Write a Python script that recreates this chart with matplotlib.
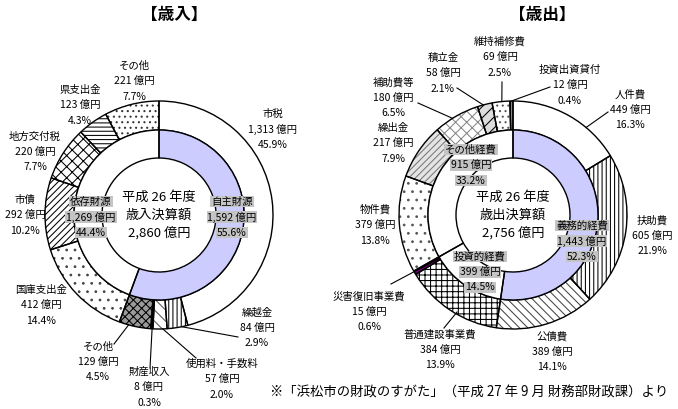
import matplotlib
matplotlib.use("Agg")
import matplotlib.pyplot as plt
import numpy as np

plt.rcParams["font.family"] = ["Noto Sans CJK JP", "DejaVu Sans"]
plt.rcParams["hatch.linewidth"] = 0.75

W, H = 678, 409

# 歳入
rev_labels = ["市税", "繰越金", "使用料・手数料", "財産収入", "その他",
              "国庫支出金", "市債", "地方交付税", "県支出金", "その他"]
rev_values = [1313, 84, 57, 8, 129, 412, 292, 220, 123, 221]
rev_pcts = ["45.9%", "2.9%", "2.0%", "0.3%", "4.5%",
            "14.4%", "10.2%", "7.7%", "4.3%", "7.7%"]
rev_inner_labels = ["自主財源", "依存財源"]
rev_inner_values = [1592, 1269]
rev_inner_pcts = ["55.6%", "44.4%"]
rev_total = 2860

# 歳出
exp_labels = ["人件費", "扶助費", "公債費", "普通建設事業費", "災害復旧事業費", "物件費",
              "繰出金", "補助費等", "積立金", "維持補修費", "投資出資貸付"]
exp_values = [449, 605, 389, 384, 15, 379, 217, 180, 58, 69, 12]
exp_pcts = ["16.3%", "21.9%", "14.1%", "13.9%", "0.6%", "13.8%",
            "7.9%", "6.5%", "2.1%", "2.5%", "0.4%"]
exp_inner_labels = ["義務的経費", "投資的経費", "その他経費"]
exp_inner_values = [1443, 399, 915]
exp_inner_pcts = ["52.3%", "14.5%", "33.2%"]
exp_total = 2756

# styles: (facecolor, hatch, hatch colour)
rev_styles = [
    ("white", "", "black"),
    ("white", "||||", "black"),
    ("white", "\\\\\\", "#555555"),
    ("black", "", "black"),
    ("#9a9a9a", "xxxx", "black"),
    ("white", "..", "#444444"),
    ("white", "/////", "black"),
    ("white", "xxx", "black"),
    ("white", "----", "black"),
    ("white", "...", "#333333"),
]
exp_styles = [
    ("white", "", "black"),
    ("white", "||||", "black"),
    ("white", "\\\\\\\\", "#444444"),
    ("white", "+++", "black"),
    ("#660066", "", "#660066"),
    ("white", "..", "#555555"),
    ("#e4e4e4", "/////", "#777777"),
    ("white", "xxx", "#888888"),
    ("#dddddd", "///", "black"),
    ("white", "...", "#555555"),
    ("#888888", "||||", "black"),
]

# label anchors (pixel coords, middle line)
rev_label_xy = [(273, 129), (257, 328), (222, 379), (149, 387), (98, 362),
                (41, 305), (25, 215), (35, 152), (80, 105), (134, 81)]
exp_label_xy = [(630, 110), (652, 236), (552, 352), (440, 350), (369, 312),
                (375, 225), (393, 143), (393, 98), (443, 73), (500, 57), (570, 85)]
rev_inner_xy = [(232, 217), (91, 217)]
exp_inner_xy = [(582, 241), (480, 272), (471, 165)]

# leaders: (wedge index, fraction clockwise within wedge, start radius, end point)
rev_leaders = [(1, 0.3, 114, (238, 337)), (2, 0.3, 114, (196, 358)),
               (3, 0.5, 90, (150, 368)), (4, 0.7, 114, (114, 344))]
exp_leaders = [(0, 0.68, 114, (608, 112)), (4, 0.5, 85, (391, 284)),
               (3, 0.43, 112, (444, 328)), (7, 0.41, 114, (418, 103)),
               (8, 0.4, 114, (457, 88)), (9, 0.55, 114, (502, 82)),
               (10, 0.5, 114, (550, 87))]

R_OUT, R_MID, R_IN = 114, 85, 57
CY = 215


def py(y):
    return H - y


def ring(ax, values, center, r_out, r_in, styles):
    wedges, _ = ax.pie(values, radius=r_out, center=center, startangle=90,
                       counterclock=False, wedgeprops=dict(width=r_out - r_in, linewidth=0))
    for w, (fc, hatch, hc) in zip(wedges, styles):
        w.set_facecolor(fc)
        w.set_hatch(hatch)
        w.set_edgecolor(hc)
    ax.pie(values, radius=r_out, center=center, startangle=90, counterclock=False,
           wedgeprops=dict(width=r_out - r_in, fill=False, edgecolor="black", linewidth=1))
    return wedges


def draw_chart(ax, cx, values, styles, labels, pcts, label_xy,
               inner_values, inner_labels, inner_pcts, inner_xy, leaders, title_line):
    center = (cx, py(CY))
    wedges = ring(ax, values, center, R_OUT, R_MID, styles)
    inner_styles = [("#ccccff", "", "#ccccff")] + [("white", "", "white")] * (len(inner_values) - 1)
    ring(ax, inner_values, center, R_MID, R_IN, inner_styles)

    for lab, v, p, (x, y) in zip(labels, values, pcts, label_xy):
        for k, s in enumerate([lab, f"{v:,} 億円", p]):
            ax.text(x, py(y + (k - 1) * 15.5), s, ha="center", va="center", fontsize=7.5)

    for lab, v, p, (x, y) in zip(inner_labels, inner_values, inner_pcts, inner_xy):
        for k, s in enumerate([lab, f"{v:,} 億円", p]):
            ax.text(x, py(y + (k - 1) * 15.5), s, ha="center", va="center", fontsize=7.5,
                    bbox=dict(boxstyle="square,pad=0.08", facecolor="#c4c4c4", edgecolor="none"))

    for idx, t, r, (ex, ey) in leaders:
        w = wedges[idx]
        th = np.deg2rad(w.theta2 - t * (w.theta2 - w.theta1))
        sx, sy = center[0] + r * np.cos(th), center[1] + r * np.sin(th)
        ax.plot([sx, ex], [sy, py(ey)], color="black", linewidth=0.8)

    for k, s in enumerate(["平成 26 年度", title_line]):
        ax.text(cx, py(197 + k * 18), s, ha="center", va="center", fontsize=9.5)


fig = plt.figure(figsize=(W / 100, H / 100), dpi=100)
ax = fig.add_axes([0, 0, 1, 1])

draw_chart(ax, 159, rev_values, rev_styles, rev_labels, rev_pcts, rev_label_xy,
           rev_inner_values, rev_inner_labels, rev_inner_pcts, rev_inner_xy,
           rev_leaders, "歳入決算額")
ax.text(159, py(233), f"{rev_total:,} 億円", ha="center", va="center", fontsize=9.5)

draw_chart(ax, 513, exp_values, exp_styles, exp_labels, exp_pcts, exp_label_xy,
           exp_inner_values, exp_inner_labels, exp_inner_pcts, exp_inner_xy,
           exp_leaders, "歳出決算額")
ax.text(513, py(233), f"{exp_total:,} 億円", ha="center", va="center", fontsize=9.5)

ax.text(174, py(15), "【歳入】", ha="center", va="center", fontsize=12, fontweight="bold")
ax.text(542, py(15), "【歳出】", ha="center", va="center", fontsize=12, fontweight="bold")
ax.text(668, py(393), "※「浜松市の財政のすがた」（平成 27 年 9 月 財務部財政課）より",
        ha="right", va="center", fontsize=9.6)

ax.set_xlim(0, W)
ax.set_ylim(0, H)
ax.set_aspect("equal")
ax.axis("off")

fig.savefig("out.png", dpi=100, facecolor="white")
